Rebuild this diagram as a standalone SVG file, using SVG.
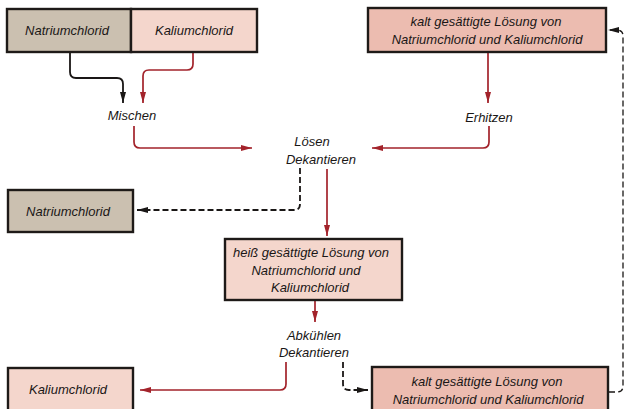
<svg xmlns="http://www.w3.org/2000/svg" width="626" height="409" viewBox="0 0 626 409">
  <style>
    .box { stroke: #1e1a18; stroke-width: 2.4; }
    .salt { fill: #cbc0b0; }
    .pink { fill: #f4d6cc; }
    .sol { fill: #ecbcb0; }
    .t { font-family: "Liberation Sans", Arial, sans-serif; font-style: italic; font-size: 13px; fill: #1a1716; }
    .c { text-anchor: middle; }
    .red { fill: none; stroke: #a3232b; stroke-width: 1.7; }
    .blk { fill: none; stroke: #1a1716; stroke-width: 1.8; }
    .dash { fill: none; stroke: #1a1716; stroke-width: 1.8; stroke-dasharray: 6 3; }
    .dashthin { fill: none; stroke: #1a1716; stroke-width: 1.3; stroke-dasharray: 6 3; }
  </style>
  <defs>
    <marker id="ahRed" viewBox="0 0 11 6" refX="11" refY="3" markerWidth="11" markerHeight="6" markerUnits="userSpaceOnUse" orient="auto">
      <path d="M0,0 L11,3 L0,6 Z" fill="#a3232b"/>
    </marker>
    <marker id="ahBlk" viewBox="0 0 11 6" refX="11" refY="3" markerWidth="11" markerHeight="6" markerUnits="userSpaceOnUse" orient="auto">
      <path d="M0,0 L11,3 L0,6 Z" fill="#1a1716"/>
    </marker>
  </defs>
  <rect width="626" height="409" fill="#ffffff"/>

  <!-- connectors -->
  <g id="connectors">
    <path class="blk" d="M70,52 V72 Q70,78 76,78 H117 Q123,78 123,84 V103" marker-end="url(#ahBlk)"/>
    <path class="red" d="M193,52 V64 Q193,70 187,70 H149 Q143,70 143,76 V103" marker-end="url(#ahRed)"/>
    <path class="red" d="M134,126 V142 Q134,148 140,148 H252" marker-end="url(#ahRed)"/>
    <path class="red" d="M488,52 V103" marker-end="url(#ahRed)"/>
    <path class="red" d="M489,126 V142 Q489,148 483,148 H372" marker-end="url(#ahRed)"/>
    <path class="dash" d="M300,168 V204 Q300,210 294,210 H137" marker-end="url(#ahBlk)"/>
    <path class="red" d="M327,169 V236" marker-end="url(#ahRed)"/>
    <path class="red" d="M315,300 V322" marker-end="url(#ahRed)"/>
    <path class="red" d="M286,362 V384 Q286,390 280,390 H140" marker-end="url(#ahRed)"/>
    <path class="dash" d="M343,362 V384 Q343,390 349,390 H368" marker-end="url(#ahBlk)"/>
    <path class="dashthin" d="M609,392 H617 Q623,392 623,386 V36 Q623,30 617,30 H608" marker-end="url(#ahBlk)"/>
  </g>

  <!-- starting salts -->
  <g id="nacl-start">
    <rect class="box salt" x="7" y="9" width="124" height="43"/>
    <text class="t c" x="67" y="35">Natriumchlorid</text>
  </g>
  <g id="kcl-start">
    <rect class="box pink" x="131" y="9" width="126" height="43"/>
    <text class="t c" x="194" y="35">Kaliumchlorid</text>
  </g>

  <!-- cold solution (recycled) -->
  <g id="cold-solution-top">
    <rect class="box sol" x="368" y="8" width="238" height="44"/>
    <text class="t c" x="486" y="26">kalt gesättigte Lösung von</text>
    <text class="t c" x="487" y="44">Natriumchlorid und Kaliumchlorid</text>
  </g>

  <!-- process steps -->
  <g id="mix"><text class="t c" x="132" y="120">Mischen</text></g>
  <g id="heat"><text class="t c" x="489" y="122">Erhitzen</text></g>
  <g id="dissolve">
    <text class="t c" x="312" y="146">Lösen</text>
    <text class="t c" x="321" y="164">Dekantieren</text>
  </g>

  <!-- sodium chloride residue -->
  <g id="nacl-residue">
    <rect class="box salt" x="8" y="190" width="125" height="42"/>
    <text class="t c" x="68" y="216">Natriumchlorid</text>
  </g>

  <!-- hot solution -->
  <g id="hot-solution">
    <rect class="box pink" x="225" y="239" width="177" height="61"/>
    <text class="t c" x="311" y="257">heiß gesättigte Lösung von</text>
    <text class="t c" x="306" y="275">Natriumchlorid und</text>
    <text class="t c" x="310" y="292">Kaliumchlorid</text>
  </g>

  <g id="cool">
    <text class="t c" x="314" y="340">Abkühlen</text>
    <text class="t c" x="314" y="357">Dekantieren</text>
  </g>

  <!-- potassium chloride product -->
  <g id="kcl-product">
    <rect class="box pink" x="8" y="368" width="125" height="46"/>
    <text class="t c" x="68" y="394">Kaliumchlorid</text>
  </g>

  <!-- cold solution (outlet) -->
  <g id="cold-solution-bottom">
    <rect class="box sol" x="372" y="367" width="236" height="47"/>
    <text class="t c" x="487" y="386">kalt gesättigte Lösung von</text>
    <text class="t c" x="488" y="404">Natriumchlorid und Kaliumchlorid</text>
  </g>
</svg>
